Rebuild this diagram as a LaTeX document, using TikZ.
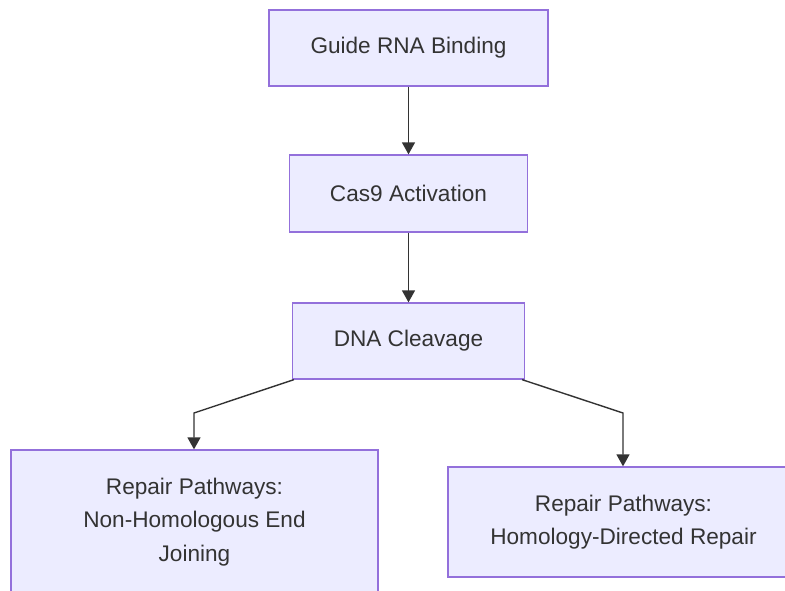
\documentclass[tikz,border=0pt]{standalone}
\usepackage{fontspec}
\setmainfont{Liberation Sans}
\usetikzlibrary{arrows.meta}
\definecolor{boxfill}{HTML}{ECECFF}
\definecolor{boxline}{HTML}{9370DB}
\definecolor{ink}{HTML}{333333}
\begin{document}
\begin{tikzpicture}[x=1pt,y=-1pt,
  box/.style={draw=boxline, fill=boxfill, line width=1.3pt, inner sep=0pt, align=center,
    text=ink, font=\fontsize{22.6}{33.5}\selectfont},
  conn/.style={draw=ink, line width=1.4pt, -{Triangle[length=12pt,width=13pt]}}]
\useasboundingbox (0,0) rectangle (785,590);
\clip (0,0) rectangle (785,590);
\fill[white] (0,0) rectangle (785,590);
\node[box, minimum width=279pt, minimum height=76pt] (b1) at (408.5,48) {Guide RNA Binding};
\node[box, minimum width=238pt, minimum height=77pt] (b2) at (408.5,193.5) {Cas9 Activation};
\node[box, minimum width=232pt, minimum height=76pt] (b3) at (408.5,341) {DNA Cleavage};
\node[box, minimum width=367pt, minimum height=144pt] (b4) at (194.5,522) {Repair Pathways:\\Non-Homologous End\\Joining};
\node[box, minimum width=351pt, minimum height=110pt] (b5) at (623.5,522) {Repair Pathways:\\Homology-Directed Repair};
\coordinate (k4) at (194,413);
\coordinate (k5) at (623,413);
\draw[conn] (b1) -- (b2);
\draw[conn] (b2) -- (b3);
\draw[conn] ([xshift=2pt]b3.south west) -- (k4) -- (k4 |- b4.north);
\draw[conn] ([xshift=-3pt]b3.south east) -- (k5) -- (k5 |- b5.north);
\end{tikzpicture}
\end{document}
